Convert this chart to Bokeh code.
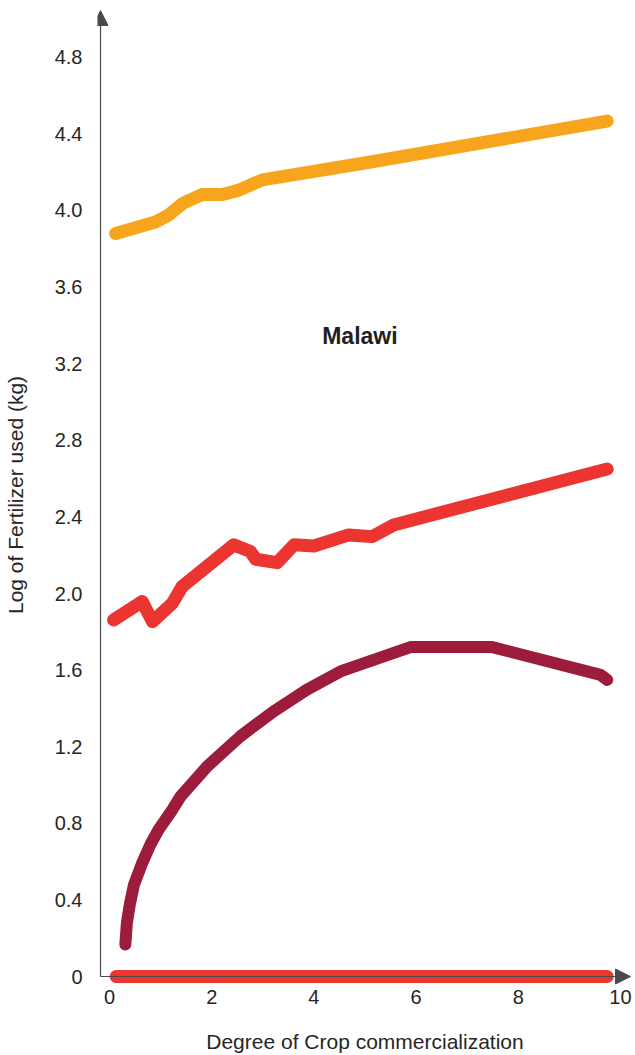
from bokeh.plotting import figure
from bokeh.models import Range1d, FixedTicker, Arrow, NormalHead, Label
from bokeh.embed import file_html
from bokeh.resources import INLINE

# ---- data ----
orange_x = [0.12, 0.90, 1.15, 1.45, 1.81, 2.21, 2.52, 2.99, 5.11, 9.74]
orange_y = [3.88, 3.94, 3.975, 4.04, 4.083, 4.083, 4.105, 4.16, 4.253, 4.467]

red_x = [0.08, 0.64, 0.84, 1.23, 1.42, 2.43, 2.76, 2.86, 3.28, 3.61, 4.00, 4.68, 5.14, 5.56, 9.74]
red_y = [1.862, 1.958, 1.853, 1.949, 2.036, 2.254, 2.219, 2.179, 2.161, 2.254, 2.248, 2.306, 2.297, 2.358, 2.650]

dark_x = [0.31, 0.34, 0.40, 0.48, 0.64, 0.80, 0.96, 1.23, 1.39, 1.91, 2.56, 3.21, 3.86, 4.52, 5.89, 7.49, 9.61, 9.74]
dark_y = [0.167, 0.28, 0.38, 0.48, 0.593, 0.689, 0.767, 0.871, 0.940, 1.097, 1.254, 1.384, 1.497, 1.593, 1.720, 1.720, 1.575, 1.549]

flat_x = [0.13, 9.74]
flat_y = [0.0, 0.0]

x_ticks = [0, 2, 4, 6, 8, 10]
y_ticks = [0, 0.4, 0.8, 1.2, 1.6, 2.0, 2.4, 2.8, 3.2, 3.6, 4.0, 4.4, 4.8]
y_tick_labels = ["0", "0.4", "0.8", "1.2", "1.6", "2.0", "2.4", "2.8", "3.2", "3.6", "4.0", "4.4", "4.8"]

title_text = "Malawi"
x_title = "Degree of Crop commercialization"
y_title = "Log of Fertilizer used (kg)"

# ---- styling ----
FONT = "Liberation Sans"
TXT = "#262626"
AXIS = "#4a4a4a"
ORANGE = "#F8A51E"
RED = "#EC3530"
DARK = "#9D1C3B"

p = figure(width=635, height=1055,
           x_range=Range1d(-0.235, 10.235), y_range=Range1d(-0.0678, 5.0965),
           output_backend="svg", toolbar_location=None,
           min_border_left=97, min_border_right=3, min_border_top=0, min_border_bottom=65)
p.outline_line_color = None
p.grid.visible = False
p.background_fill_color = "white"
p.border_fill_color = "white"

for ax in (p.xaxis, p.yaxis):
    ax.axis_line_color = None
    ax.major_tick_line_color = None
    ax.minor_tick_line_color = None
    ax.major_label_text_font = FONT
    ax.major_label_text_font_size = "20px"
    ax.major_label_text_color = TXT
    ax.axis_label_text_font = FONT
    ax.axis_label_text_font_size = "21px"
    ax.axis_label_text_font_style = "normal"
    ax.axis_label_text_color = TXT

p.xaxis.ticker = FixedTicker(ticks=x_ticks)
p.xaxis.major_label_standoff = -6
p.xaxis.axis_label = x_title
p.xaxis.axis_label_standoff = 23

p.yaxis.ticker = FixedTicker(ticks=y_ticks)
p.yaxis.major_label_overrides = {t: s for t, s in zip(y_ticks, y_tick_labels)}
p.yaxis.major_label_standoff = 9
p.yaxis.axis_label = y_title
p.yaxis.axis_label_standoff = 25

# ---- series ----
p.line(orange_x, orange_y, line_color=ORANGE, line_width=13, line_cap="round", line_join="round")
p.line(red_x, red_y, line_color=RED, line_width=13, line_cap="round", line_join="round")
p.line(dark_x, dark_y, line_color=DARK, line_width=12, line_cap="round", line_join="round")
p.line(flat_x, flat_y, line_color=RED, line_width=13, line_cap="round", line_join="round")

# ---- axes with arrow heads ----
x0 = -0.176
p.add_layout(Arrow(x_start=x0, y_start=0, x_end=10.196, y_end=0,
                   line_color=AXIS, line_width=1.2,
                   end=NormalHead(size=15, fill_color=AXIS, line_color=AXIS, line_width=1)))
p.add_layout(Arrow(x_start=x0, y_start=0, x_end=x0, y_end=5.044,
                   line_color=AXIS, line_width=1.2,
                   end=NormalHead(size=15, fill_color=AXIS, line_color=AXIS, line_width=1)))

p.add_layout(Label(x=4.90, y=3.342, text=title_text, text_font=FONT, text_font_style="bold",
                   text_font_size="23px", text_color="#231F20", text_align="center",
                   text_baseline="alphabetic"))

open("out.html", "w").write(file_html(p, INLINE))
